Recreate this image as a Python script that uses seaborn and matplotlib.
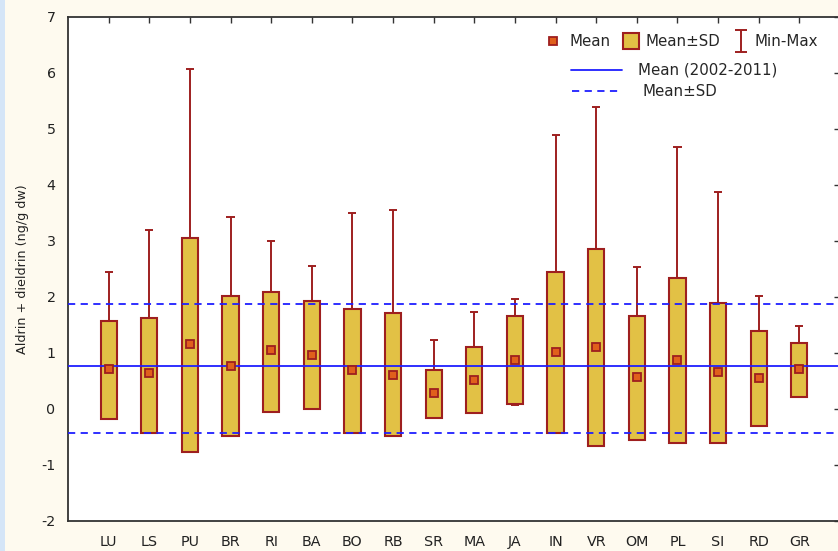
import numpy as np
import pandas as pd
import matplotlib
matplotlib.use("Agg")
import matplotlib.pyplot as plt
from matplotlib.patches import Rectangle
from matplotlib.path import Path
import seaborn as sns

# Sampling sites
sites = ["LU", "LS", "PU", "BR", "RI", "BA", "BO", "RB", "SR",
         "MA", "JA", "IN", "VR", "OM", "PL", "SI", "RD", "GR"]
# Mean, mean - SD, mean + SD, min and max per site (ng/g dw)
mean_vals = [0.71, 0.64, 1.16, 0.77, 1.05, 0.96, 0.69, 0.61, 0.28,
             0.52, 0.88, 1.02, 1.11, 0.58, 0.88, 0.66, 0.55, 0.71]
sd_low = [-0.17, -0.42, -0.77, -0.49, -0.06, 0.00, -0.43, -0.49, -0.16,
          -0.08, 0.09, -0.43, -0.66, -0.55, -0.61, -0.61, -0.30, 0.22]
sd_high = [1.57, 1.63, 3.06, 2.02, 2.09, 1.92, 1.79, 1.71, 0.69,
           1.10, 1.66, 2.45, 2.86, 1.66, 2.34, 1.90, 1.40, 1.18]
min_vals = [0.05, 0.02, 0.03, 0.05, 0.10, 0.08, 0.04, 0.02, 0.03,
            0.05, 0.07, 0.05, 0.04, 0.03, 0.05, 0.04, 0.06, 0.25]
max_vals = [2.45, 3.20, 6.08, 3.42, 3.00, 2.56, 3.50, 3.55, 1.24,
            1.73, 1.96, 4.90, 5.39, 2.54, 4.68, 3.88, 2.02, 1.49]
# Overall period statistics (2002-2011)
overall_mean = 0.77
overall_sd_low = -0.42
overall_sd_high = 1.875
y_ticks = [-2, -1, 0, 1, 2, 3, 4, 5, 6, 7]

df = pd.DataFrame({
    "site": sites,
    "mean": mean_vals,
    "low": sd_low,
    "high": sd_high,
    "span": np.array(sd_high) - np.array(sd_low),
    "min": min_vals,
    "max": max_vals,
})

sns.set_style("white")
plt.rcParams["font.family"] = ["DejaVu Sans"]

BOX_FILL = "#E2C145"
DARK_RED = "#9E1F1F"
MEAN_FILL = "#E0601C"
BLUE = "#1F1FFF"
BG = "#FEFAEF"
LEG_FS = 10.8

fig = plt.figure(figsize=(8.38, 5.51), dpi=100, facecolor=BG)
W, H = 838, 551
ax = fig.add_axes([68 / W, 30 / H, (840 - 68) / W, (521 - 17) / H])
ax.set_facecolor("white")

# light blue strip along the left edge of the window
fig.patches.append(Rectangle((0, 0), 5 / W, 1, transform=fig.transFigure,
                             facecolor="#D5E5F7", edgecolor="none", zorder=0))

pos = np.arange(len(sites))

# min-max whiskers behind the boxes
ax.vlines(pos, df["min"], df["max"], color=DARK_RED, lw=1.4, zorder=1)
ax.hlines(df["max"], pos - 0.1, pos + 0.1, color=DARK_RED, lw=1.4, zorder=1)
ax.hlines(df["min"], pos - 0.1, pos + 0.1, color=DARK_RED, lw=1.4, zorder=1)

# mean +/- SD boxes
sns.barplot(data=df, x="site", y="span", bottom=df["low"].values, order=sites,
            color=BOX_FILL, saturation=1, width=0.4, edgecolor=DARK_RED,
            linewidth=1.5, errorbar=None, ax=ax, zorder=2)
for p in ax.patches:
    p.set_facecolor(BOX_FILL)
    p.set_edgecolor(DARK_RED)

# overall mean and +/- SD reference lines
ax.axhline(overall_mean, color=BLUE, lw=1.3, zorder=3)
ax.axhline(overall_sd_high, color=BLUE, lw=1.3, ls=(0, (4, 3)), zorder=3)
ax.axhline(overall_sd_low, color=BLUE, lw=1.3, ls=(0, (4, 3)), zorder=3)

# site means
sns.pointplot(data=df, x="site", y="mean", order=sites, errorbar=None,
              linestyle="none", marker="s", markersize=6, color=MEAN_FILL,
              markerfacecolor=MEAN_FILL, markeredgecolor=DARK_RED,
              markeredgewidth=1.3, ax=ax, zorder=4)

ax.set_xlim(-1, len(sites))
ax.set_ylim(-2, 7)
ax.set_yticks(y_ticks)
ax.set_yticklabels([str(t) for t in y_ticks])
ax.set_xticks(pos)
ax.set_xticklabels(sites)
ax.set_xlabel("")
ax.set_ylabel("Aldrin + dieldrin (ng/g dw)", fontsize=9.2, color="#222222", labelpad=9)

for s in ax.spines.values():
    s.set_visible(True)
    s.set_color("#333333")
    s.set_linewidth(1.3)
ax.tick_params(axis="both", direction="in", length=4, width=1, color="#333333",
               top=True, right=True, labelsize=10.3, labelcolor="#222222")
ax.tick_params(axis="x", pad=10)
ax.tick_params(axis="y", pad=9)


def axp(px, py):
    return ((px - 68) / 772, (521 - py) / 504)


# legend, first row: mean marker, SD box, min-max whisker
tr = ax.transAxes
x, y = axp(553, 41)
ax.plot([x], [y], marker="s", ms=6, mfc=MEAN_FILL, mec=DARK_RED, mew=1.3,
        transform=tr, clip_on=False, zorder=6)
x, y = axp(569, 41)
ax.text(x, y, "Mean", transform=tr, fontsize=LEG_FS, va="center", ha="left")
x0, y0 = axp(623, 49)
x1, y1 = axp(639, 33)
ax.add_patch(Rectangle((x0, y0), x1 - x0, y1 - y0, transform=tr,
                       facecolor=BOX_FILL, edgecolor=DARK_RED, lw=1.5,
                       clip_on=False, zorder=6))
x, y = axp(645, 41)
ax.text(x, y, "Mean±SD", transform=tr, fontsize=LEG_FS, va="center", ha="left")
ibeam = Path([(-0.5, 1), (0.5, 1), (0, 1), (0, -1), (-0.5, -1), (0.5, -1)],
             [Path.MOVETO, Path.LINETO, Path.MOVETO, Path.LINETO,
              Path.MOVETO, Path.LINETO])
x, y = axp(741, 41)
ax.plot([x], [y], marker=ibeam, ms=16, mec=DARK_RED, mfc="none", mew=1.4,
        transform=tr, clip_on=False, zorder=6)
x, y = axp(754, 41)
ax.text(x, y, "Min-Max", transform=tr, fontsize=LEG_FS, va="center", ha="left")

# legend, reference lines
xa, y = axp(571, 70)
xb, _ = axp(622, 70)
ax.plot([xa, xb], [y, y], color=BLUE, lw=1.3, transform=tr, zorder=6)
x, _ = axp(638, 70)
ax.text(x, y, "Mean (2002-2011)", transform=tr, fontsize=LEG_FS, va="center", ha="left")
xa, y = axp(572, 91)
xb, _ = axp(620, 91)
ax.plot([xa, xb], [y, y], color=BLUE, lw=1.3, ls=(0, (4, 3)), transform=tr, zorder=6)
x, _ = axp(642, 91)
ax.text(x, y, "Mean±SD", transform=tr, fontsize=LEG_FS, va="center", ha="left")

fig.savefig("out.png", dpi=100, facecolor=BG)
